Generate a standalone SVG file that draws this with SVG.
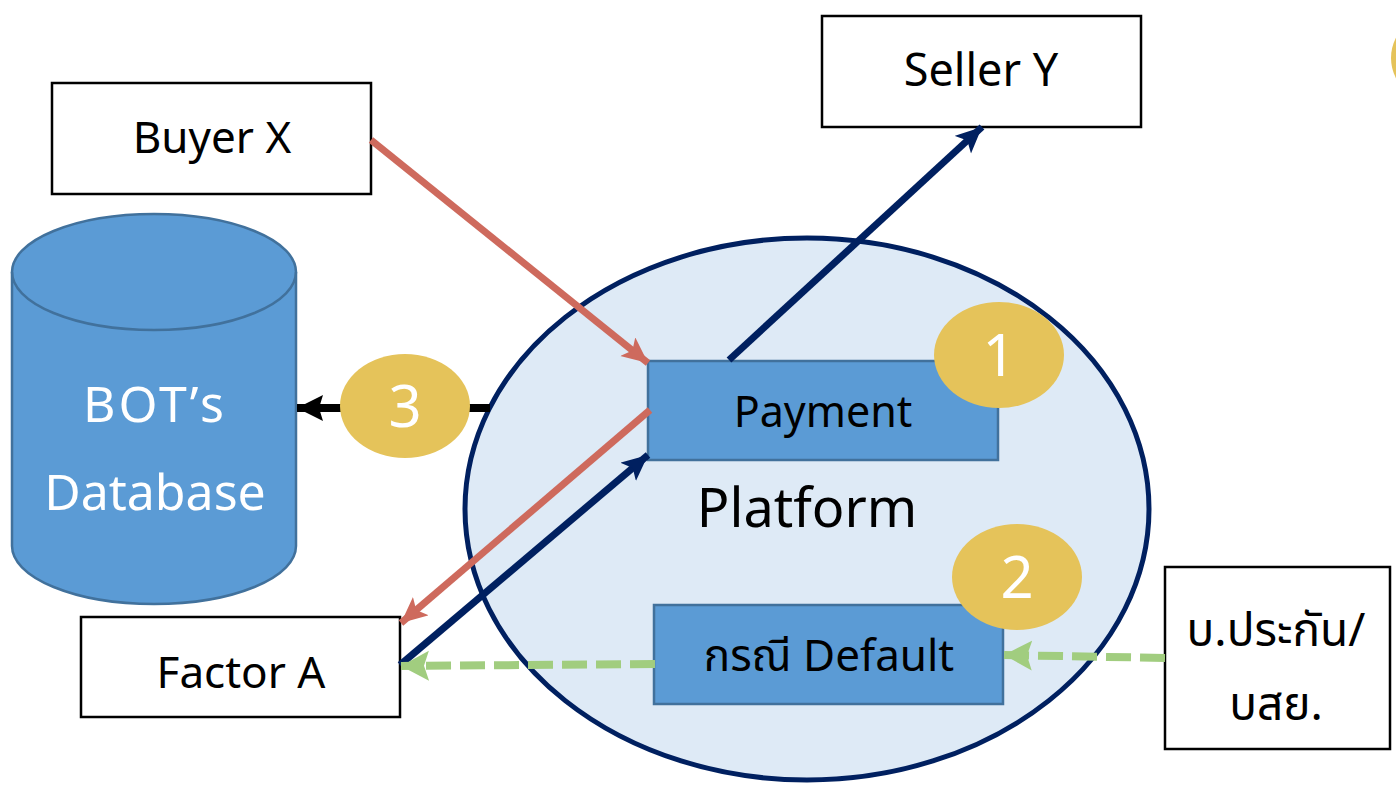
<svg xmlns="http://www.w3.org/2000/svg" width="1396" height="794" viewBox="0 0 1396 794">
<style>
.box{fill:#fff;stroke:#000;stroke-width:2.5}
.blue{fill:#5B9BD5;stroke:#41719C;stroke-width:2.5}
.gold{fill:#E5C35A}
.t{font-family:"Noto Sans","Noto Sans Thai","DejaVu Sans",sans-serif;fill:#000;text-anchor:middle}
.w{fill:#fff}
.num{font-family:"Noto Sans","DejaVu Sans",sans-serif;fill:#fff;text-anchor:middle;font-size:58px}
.red{stroke:#CE6A5D;stroke-width:7;fill:none}
.navy{stroke:#002060;stroke-width:7;fill:none}
.green{stroke:#A1CD7F;stroke-width:8;fill:none;stroke-dasharray:25 9}
</style>
<defs>
<marker id="mr" markerUnits="userSpaceOnUse" markerWidth="30" markerHeight="30" refX="26" refY="12" orient="auto"><path d="M0,0 L26,12 L0,24 L6,12 Z" fill="#CE6A5D"/></marker>
<marker id="mn" markerUnits="userSpaceOnUse" markerWidth="30" markerHeight="30" refX="26" refY="12" orient="auto"><path d="M0,0 L26,12 L0,24 L6,12 Z" fill="#002060"/></marker>
<marker id="mk" markerUnits="userSpaceOnUse" markerWidth="30" markerHeight="30" refX="26" refY="13" orient="auto"><path d="M0,0 L26,13 L0,26 L4,13 Z" fill="#000"/></marker>
<marker id="mg" markerUnits="userSpaceOnUse" markerWidth="32" markerHeight="32" refX="28" refY="15" orient="auto"><path d="M0,0 L28,15 L0,30 L5,15 Z" fill="#A1CD7F"/></marker>
</defs>

<g id="partial-circle"><ellipse class="gold" cx="1456" cy="58" rx="65" ry="53"/></g>

<g id="platform">
<ellipse cx="807" cy="509" rx="342" ry="271" fill="#DEEAF6" stroke="#002060" stroke-width="5"/>
<text class="t" x="807" y="527" font-size="54">Platform</text>
</g>

<g id="database">
<path class="blue" d="M12,272 L12,546 A142,58 0 0 0 296,546 L296,272 A142,58 0 0 0 12,272 Z"/>
<path d="M12,272 A142,58 0 0 0 296,272" fill="none" stroke="#41719C" stroke-width="2.5"/>
<text class="t w" x="155" y="422" font-size="50" letter-spacing="3">BOT’s</text>
<text class="t w" x="155" y="510" font-size="50">Database</text>
</g>

<g id="buyer"><rect class="box" x="52" y="83" width="319" height="111"/><text class="t" x="212" y="153" font-size="44">Buyer X</text></g>
<g id="seller"><rect class="box" x="822" y="16" width="319" height="111"/><text class="t" x="981" y="86" font-size="45">Seller Y</text></g>
<g id="factor"><rect class="box" x="81" y="617" width="319" height="100"/><text class="t" x="241" y="688" font-size="44">Factor A</text></g>
<g id="insurer"><rect class="box" x="1165" y="567" width="225" height="182"/><text class="t" x="1276" y="646" font-size="46">บ.ประกัน/</text><text class="t" x="1276" y="720" font-size="46">บสย.</text></g>

<g id="payment"><rect class="blue" x="648" y="361" width="350" height="99"/><text class="t" x="823" y="427" font-size="43">Payment</text></g>
<g id="default"><rect class="blue" x="654" y="605" width="349" height="99"/><text class="t" x="829" y="671" font-size="44">กรณี Default</text></g>

<g id="connectors">
<line class="red" x1="371" y1="140" x2="648" y2="363" marker-end="url(#mr)"/>
<line class="red" x1="650" y1="410" x2="401" y2="623" marker-end="url(#mr)"/>
<line class="navy" x1="400" y1="665" x2="648" y2="455" marker-end="url(#mn)"/>
<line class="navy" x1="729" y1="360" x2="982" y2="127" marker-end="url(#mn)"/>
<line x1="490" y1="408" x2="297" y2="408" stroke="#000" stroke-width="8" marker-end="url(#mk)"/>
<line class="green" x1="655" y1="664" x2="401" y2="666" marker-end="url(#mg)"/>
<line class="green" x1="1165" y1="658" x2="1004" y2="655" marker-end="url(#mg)"/>
</g>

<g id="badge1"><ellipse class="gold" cx="999" cy="355" rx="65" ry="53"/><text class="num" x="999" y="376">1</text></g>
<g id="badge2"><ellipse class="gold" cx="1017" cy="577" rx="65" ry="53"/><text class="num" x="1017" y="598">2</text></g>
<g id="badge3"><ellipse class="gold" cx="405" cy="406" rx="65" ry="52"/><text class="num" x="405" y="427">3</text></g>
</svg>
